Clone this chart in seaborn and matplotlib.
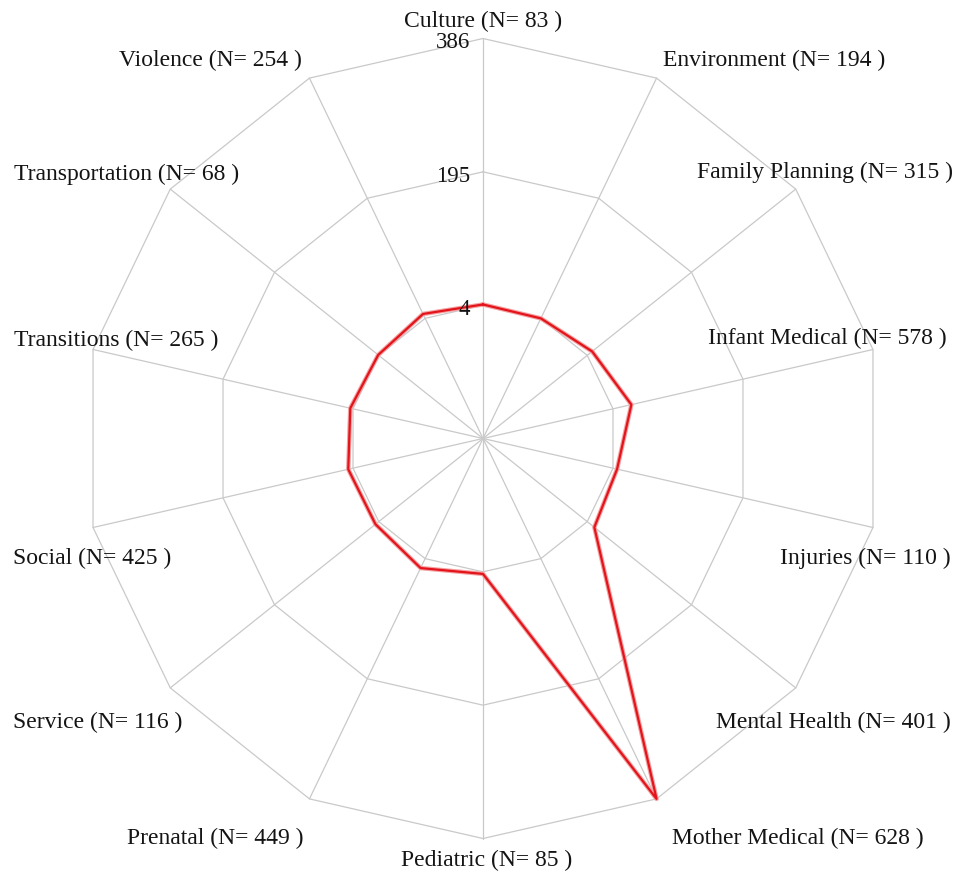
import numpy as np
import pandas as pd
import matplotlib
matplotlib.use("Agg")
import matplotlib.pyplot as plt
import seaborn as sns

# data
categories = ["Culture", "Environment", "Family Planning", "Infant Medical",
              "Injuries", "Mental Health", "Mother Medical", "Pediatric",
              "Prenatal", "Service", "Social", "Transitions",
              "Transportation", "Violence"]
counts = [83, 194, 315, 578, 110, 401, 628, 85, 449, 116, 425, 265, 68, 254]
scores = [5, 4, 13, 31, 10, 17, 386, 7, 19, 10, 11, 8, 5, 11]
axis_ticks = [4, 195, 386]

# label anchors (in units of the outer radius)
label_pos = [(0.000, 1.042), (0.728, 0.946), (0.855, 0.664), (0.861, 0.249),
             (0.957, -0.299), (0.876, -0.711), (0.786, -0.999), (0.008, -1.054),
             (-0.670, -0.999), (-0.963, -0.711), (-0.977, -0.299), (-0.916, 0.246),
             (-0.891, 0.659), (-0.681, 0.946)]

sns.set_style("white")
plt.rcParams["font.family"] = ["Liberation Serif", "DejaVu Serif"]

n = len(categories)
theta = np.pi / 2 - 2 * np.pi * np.arange(n) / n
vmin, vmax = axis_ticks[0], axis_ticks[-1]
seg = len(axis_ticks)


def to_radius(v):
    # fmsb style: min sits on the first ring, center is not zero
    return (1 + (seg - 1) * (np.asarray(v, float) - vmin) / (vmax - vmin)) / seg


fig = plt.figure(figsize=(9.56, 8.8), dpi=100)
ax = fig.add_axes([0, 0, 1, 1])
ax.axis("off")

grid_col = "#c9c9c9"
txt_col = "#141414"
for t in axis_ticks:
    r = to_radius(t)
    xs = np.append(r * np.cos(theta), r * np.cos(theta[0]))
    ys = np.append(r * np.sin(theta), r * np.sin(theta[0]))
    ax.plot(xs, ys, color=grid_col, lw=0.9, zorder=1)
    ax.text(-0.033, r - 0.011, str(t), ha="right", va="center",
            fontsize=16.5, color=txt_col, zorder=4)
for th in theta:
    ax.plot([0, np.cos(th)], [0, np.sin(th)], color=grid_col, lw=0.9, zorder=1)

rad = to_radius(scores)
df = pd.DataFrame({"x": rad * np.cos(theta), "y": rad * np.sin(theta)})
df = pd.concat([df, df.iloc[:1]], ignore_index=True)
sns.lineplot(data=df, x="x", y="y", sort=False, estimator=None,
             color="#f4a0a0", lw=3.2, ax=ax, zorder=2)
sns.lineplot(data=df, x="x", y="y", sort=False, estimator=None,
             color="#e3141b", lw=1.6, ax=ax, zorder=3)

for cat, cnt, (lx, ly) in zip(categories, counts, label_pos):
    ax.text(lx, ly, f"{cat} (N= {cnt} )", ha="center", va="center",
            fontsize=17, color=txt_col, zorder=4)

ax.set_xlim(-483 / 400, 473 / 400)
ax.set_ylim(-441.5 / 400, 438.5 / 400)
fig.savefig("out.png", dpi=100, facecolor="white")
plt.close(fig)
